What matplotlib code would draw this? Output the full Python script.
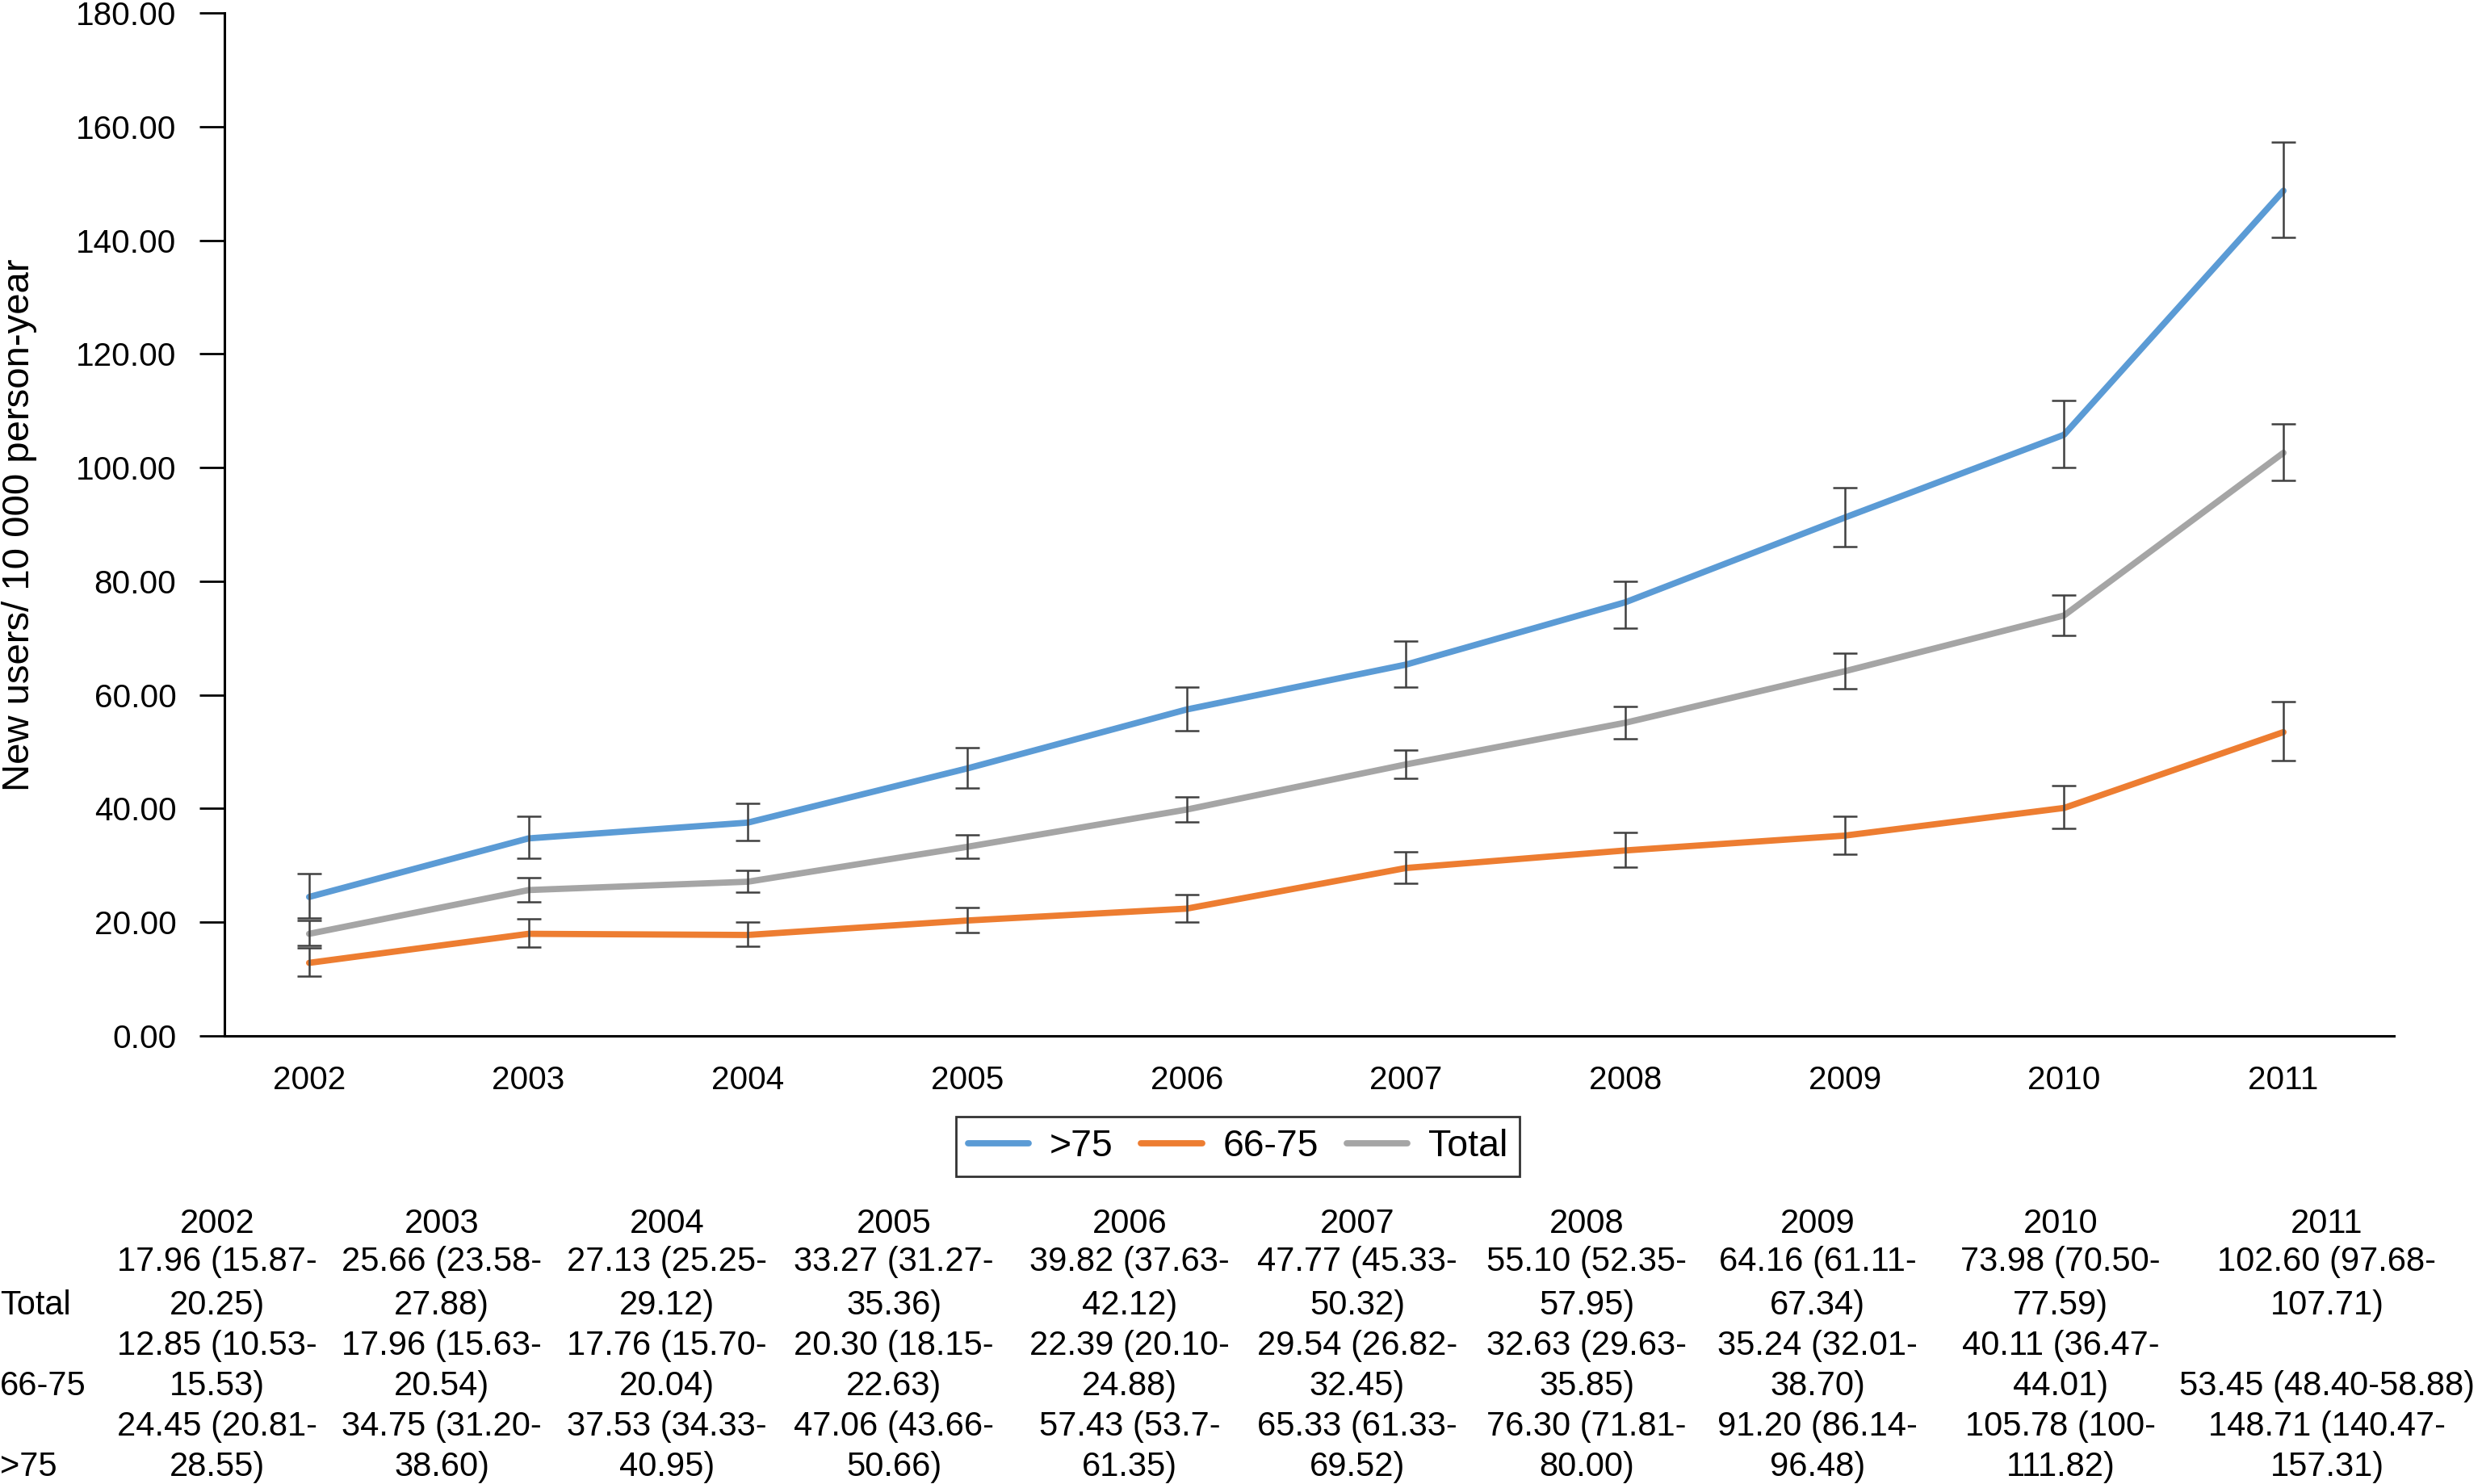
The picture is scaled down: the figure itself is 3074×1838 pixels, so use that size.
import matplotlib
matplotlib.use("Agg")
import matplotlib.pyplot as plt

plt.rcParams['font.family'] = ['Liberation Sans', 'DejaVu Sans']

W, H = 3074, 1838
DPI = 200

years = [2002, 2003, 2004, 2005, 2006, 2007, 2008, 2009, 2010, 2011]

# rates per 10 000 person-year, CI bounds kept as written in the table
total_rate = ["17.96", "25.66", "27.13", "33.27", "39.82", "47.77", "55.10", "64.16", "73.98", "102.60"]
total_lo = ["15.87", "23.58", "25.25", "31.27", "37.63", "45.33", "52.35", "61.11", "70.50", "97.68"]
total_hi = ["20.25", "27.88", "29.12", "35.36", "42.12", "50.32", "57.95", "67.34", "77.59", "107.71"]

mid_rate = ["12.85", "17.96", "17.76", "20.30", "22.39", "29.54", "32.63", "35.24", "40.11", "53.45"]
mid_lo = ["10.53", "15.63", "15.70", "18.15", "20.10", "26.82", "29.63", "32.01", "36.47", "48.40"]
mid_hi = ["15.53", "20.54", "20.04", "22.63", "24.88", "32.45", "35.85", "38.70", "44.01", "58.88"]

old_rate = ["24.45", "34.75", "37.53", "47.06", "57.43", "65.33", "76.30", "91.20", "105.78", "148.71"]
old_lo = ["20.81", "31.20", "34.33", "43.66", "53.7", "61.33", "71.81", "86.14", "100", "140.47"]
old_hi = ["28.55", "38.60", "40.95", "50.66", "61.35", "69.52", "80.00", "96.48", "111.82", "157.31"]

yticks = [0, 20, 40, 60, 80, 100, 120, 140, 160, 180]

series = [
    (">75", old_rate, old_lo, old_hi, "#5B9BD5"),
    ("66-75", mid_rate, mid_lo, mid_hi, "#ED7D31"),
    ("Total", total_rate, total_lo, total_hi, "#A5A5A5"),
]
table_rows = [
    ("Total", total_rate, total_lo, total_hi),
    ("66-75", mid_rate, mid_lo, mid_hi),
    (">75", old_rate, old_lo, old_hi),
]


def fx(px):
    return px / W


def fy(py):
    return 1 - py / H


fig = plt.figure(figsize=(W / DPI, H / DPI), dpi=DPI)
ax = fig.add_axes([fx(278), fy(1283), fx(2965) - fx(278), fy(16) - fy(1283)])

xs = list(range(len(years)))
for name, rate, lo, hi, col in series:
    y = [float(v) for v in rate]
    err_lo = [float(v) - float(l) for v, l in zip(rate, lo)]
    err_hi = [float(h) - float(v) for v, h in zip(rate, hi)]
    ax.plot(xs, y, color=col, lw=2.8, solid_capstyle="round", label=name, zorder=2)
    ax.errorbar(xs, y, yerr=[err_lo, err_hi], fmt="none", ecolor="#404040",
                elinewidth=0.9, capsize=5.5, capthick=0.9, zorder=3)

ax.set_xlim(-0.386, 9.504)
ax.set_ylim(0, 180)
ax.set_yticks(yticks)
ax.set_yticklabels([f"{t:.2f}" for t in yticks], fontsize=14.6)
ax.set_xticks(xs)
ax.set_xticklabels([str(y) for y in years], fontsize=14.6)
ax.tick_params(axis="x", length=0, pad=13)
ax.tick_params(axis="y", length=11, width=1.0, pad=10.5)
for s in ["top", "right"]:
    ax.spines[s].set_visible(False)
for s in ["left", "bottom"]:
    ax.spines[s].set_linewidth(1.1)

fig.text(fx(24), fy(650), "New users/ 10 000 person-year", rotation=90,
         ha="center", va="center", fontsize=17)

leg = fig.legend(loc="center", bbox_to_anchor=(fx(1533), fy(1420)), ncol=3,
                 fontsize=16.7, frameon=True, fancybox=False, handlelength=1.62,
                 handletextpad=0.56, columnspacing=0.75, borderpad=0.32)
leg.get_frame().set_edgecolor("black")
leg.get_frame().set_linewidth(1.0)

# data table under the chart
col_x = [269, 547, 826, 1107, 1399, 1681, 1965, 2251, 2552, 2882]
col_w = [300, 300, 300, 300, 300, 300, 300, 300, 330, 390]
head_y = 1516
row_y = [(1563, 1617), (1667, 1717), (1767, 1817)]
tfs = 15

for x, yr in zip(col_x, years):
    fig.text(fx(x), fy(head_y), str(yr), ha="center", va="center", fontsize=tfs)

renderer = fig.canvas.get_renderer()
for (label, rate, lo, hi), (y1, y2) in zip(table_rows, row_y):
    fig.text(0, fy(y2), label, ha="left", va="center", fontsize=tfs)
    for i, x in enumerate(col_x):
        full = f"{rate[i]} ({lo[i]}-{hi[i]})"
        t = fig.text(fx(x), fy(y2), full, ha="center", va="center", fontsize=tfs)
        if t.get_window_extent(renderer).width > col_w[i]:
            t.remove()
            fig.text(fx(x), fy(y1), f"{rate[i]} ({lo[i]}-", ha="center", va="center", fontsize=tfs)
            fig.text(fx(x), fy(y2), f"{hi[i]})", ha="center", va="center", fontsize=tfs)

fig.savefig("out.png", dpi=DPI)
